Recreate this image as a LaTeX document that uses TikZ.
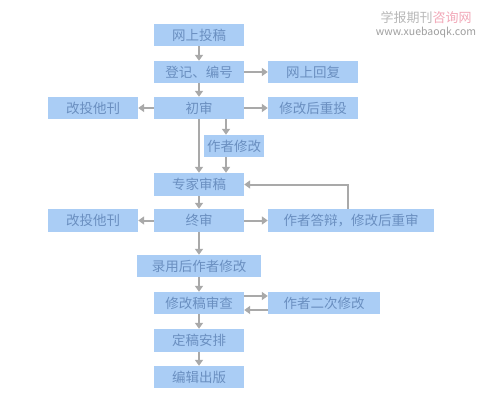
\documentclass[tikz,border=0pt]{standalone}
\usepackage{fontspec}
\usepackage{tikz}
\usetikzlibrary{arrows.meta,positioning,calc}
\newfontfamily\cjk{Noto Sans CJK SC}
\definecolor{boxblue}{HTML}{AACDF5}
\definecolor{txtblue}{HTML}{6A8FC0}
\definecolor{flowgrey}{HTML}{A9A9A9}
\definecolor{markpink}{HTML}{F2A8B8}

\begin{document}
\begin{tikzpicture}[x=1pt,y=-1pt,font=\cjk\fontsize{13.5}{15}\selectfont,
    stage/.style={fill=boxblue,text=txtblue,inner sep=0pt,minimum width=90pt,minimum height=22pt},
    flow/.style={draw=flowgrey,line width=2pt,-{Triangle[width=8pt,length=6pt]}}]
          \useasboundingbox (0,0) rectangle (490,402);
          \fill[white] (0,0) rectangle (490,402);

          \node[text=gray!55,font=\cjk\fontsize{13}{14}\selectfont] (markcn) at (426,18) {学报期刊\textcolor{markpink}{咨询网}};
          \node[text=gray!75,font=\cjk\fontsize{10.5}{12}\selectfont] (markurl) at (426,33) {www.xuebaoqk.com};

          \node[stage] (submit) at (199,35) {网上投稿};
          \node[stage] (register) at (199,72) {登记、编号};
          \node[stage] (reply) at (313,72) {网上回复};
          \node[stage] (first) at (199,108) {初审};
          \node[stage] (otherA) at (93,108) {改投他刊};
          \node[stage] (resubmit) at (313,108) {修改后重投};
          \node[stage,minimum width=60pt] (revise) at (234,146) {作者修改};
          \node[stage,minimum height=23pt] (expert) at (199,184.5) {专家审稿};
          \node[stage,minimum height=23pt] (final) at (199,220.5) {终审};
          \node[stage,minimum height=23pt] (otherB) at (93,220.5) {改投他刊};
          \node[stage,minimum height=23pt,minimum width=166pt] (defend) at (351,220.5) {作者答辩，修改后重审};
          \node[stage,minimum width=124pt] (accepted) at (199,266) {录用后作者修改};
          \node[stage] (check) at (199,303) {修改稿审查};
          \node[stage,minimum width=112pt] (second) at (324,303) {作者二次修改};
          \node[stage,minimum height=23pt] (fixed) at (199,340.5) {定稿安排};
          \node[stage] (publish) at (199,377) {编辑出版};

          \draw[flow] (submit) -- (register);
          \draw[flow] (register) -- (reply);
          \draw[flow] (register) -- (first);
          \draw[flow] (first) -- (otherA);
          \draw[flow] (first) -- (resubmit);
          \draw[flow] (first) -- (expert);
          \draw[flow] ([xshift=27pt]first.south) -- ([xshift=27pt]first.south |- revise.north);
          \draw[flow] ([xshift=-8pt]revise.south) -- ([xshift=-8pt]revise.south |- expert.north);
          \draw[flow] (expert) -- (final);
          \draw[flow] (final) -- (otherB);
          \draw[flow] (final) -- (defend);
          \draw[flow] ([xshift=-3pt]defend.north) |- (expert.east);
          \draw[flow] (final) -- (accepted);
          \draw[flow] (accepted) -- (check);
          \draw[flow] ([yshift=7pt]check.east) -- ([yshift=7pt]check.east -| second.west);
          \draw[flow] ([yshift=-7pt]second.west) -- ([yshift=-7pt]second.west -| check.east);
          \draw[flow] (check) -- (fixed);
          \draw[flow] (fixed) -- (publish);
        \end{tikzpicture}
\end{document}
